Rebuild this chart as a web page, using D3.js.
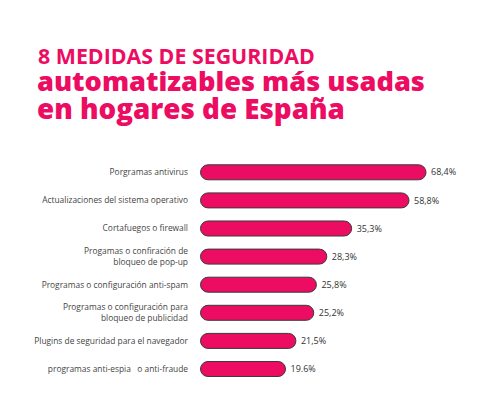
<!DOCTYPE html>
<html>
<head>
<meta charset="utf-8">
<script src="https://cdn.jsdelivr.net/npm/d3@7"></script>
<style>
  html, body { margin: 0; padding: 0; background: #fff; }
  svg { display: block; }
</style>
</head>
<body>
<svg id="chart" width="480" height="416"></svg>
<script>
const titleLines = ["8 MEDIDAS DE SEGURIDAD", "automatizables más usadas", "en hogares de España"];
const categories = [
  ["Porgramas antivirus"],
  ["Actualizaciones del sistema operativo"],
  ["Cortafuegos o firewall"],
  ["Progamas o confiración de", "bloqueo de pop-up"],
  ["Programas o configuración anti-spam"],
  ["Programas o configuración para", "bloqueo de publicidad"],
  ["Plugins de seguridad para el navegador"],
  ["programas anti-espia   o anti-fraude"]
];
const values = [68.4, 58.8, 35.3, 28.3, 25.8, 25.2, 21.5, 19.6];
const valueLabels = ["68,4%", "58,8%", "35,3%", "28,3%", "25,8%", "25,2%", "21,5%", "19.6%"];

const pink = "#ec0c62";
const svg = d3.select("#chart");

// Title
const title = svg.append("g").attr("fill", pink).attr("font-family", "'Open Sans', sans-serif");
const titleSpec = [
  {x: 38, y: 64, size: 20, weight: 700, w: 277},
  {x: 37, y: 91, size: 29, weight: 800, w: 388},
  {x: 37, y: 118.5, size: 29, weight: 800, w: 308}
];
titleSpec.forEach((s, k) => {
  const t = title.append("text").attr("x", s.x).attr("y", s.y)
    .attr("font-size", s.size).attr("font-weight", s.weight).text(titleLines[k]);
  const len = t.node().getComputedTextLength();
  if (len > 0) t.attr("font-size", s.size * s.w / len);
});

const idx = d3.range(values.length);
const y = d3.scaleBand().domain(idx).range([158.25, 383.05])
  .paddingInner(0.466).paddingOuter(0.233);
const x = d3.scaleLog().domain([9.2, 100]).range([200.5, 468.7]);

const g = svg.append("g").attr("font-family", "'Open Sans', sans-serif");

g.selectAll("rect.bar").data(idx).join("rect")
  .attr("class", "bar")
  .attr("x", x.range()[0])
  .attr("y", i => y(i))
  .attr("width", i => x(values[i]) - x.range()[0])
  .attr("height", y.bandwidth())
  .attr("rx", y.bandwidth() / 2)
  .attr("fill", pink)
  .attr("stroke", "#3a3a3a")
  .attr("stroke-width", 1);

g.selectAll("text.val").data(idx).join("text")
  .attr("class", "val")
  .attr("x", i => x(values[i]) + 5)
  .attr("y", i => y(i) + y.bandwidth() / 2)
  .attr("dy", "0.35em")
  .attr("font-size", 9)
  .attr("fill", "#333")
  .text(i => valueLabels[i]);

const labels = g.selectAll("text.cat").data(idx).join("text")
  .attr("class", "cat")
  .attr("text-anchor", "end")
  .attr("font-size", 8.4)
  .attr("fill", "#444")
  .attr("x", 188)
  .attr("y", i => y(i) + y.bandwidth() / 2);
labels.each(function(i) {
  const lines = categories[i];
  const n = lines.length;
  d3.select(this).selectAll("tspan").data(lines).join("tspan")
    .attr("x", 188)
    .attr("dy", (d, k) => k === 0 ? (0.35 - (n - 1) * 0.65) + "em" : "1.3em")
    .attr("xml:space", "preserve")
    .style("white-space", "pre")
    .text(d => d);
});
</script>
</body>
</html>
